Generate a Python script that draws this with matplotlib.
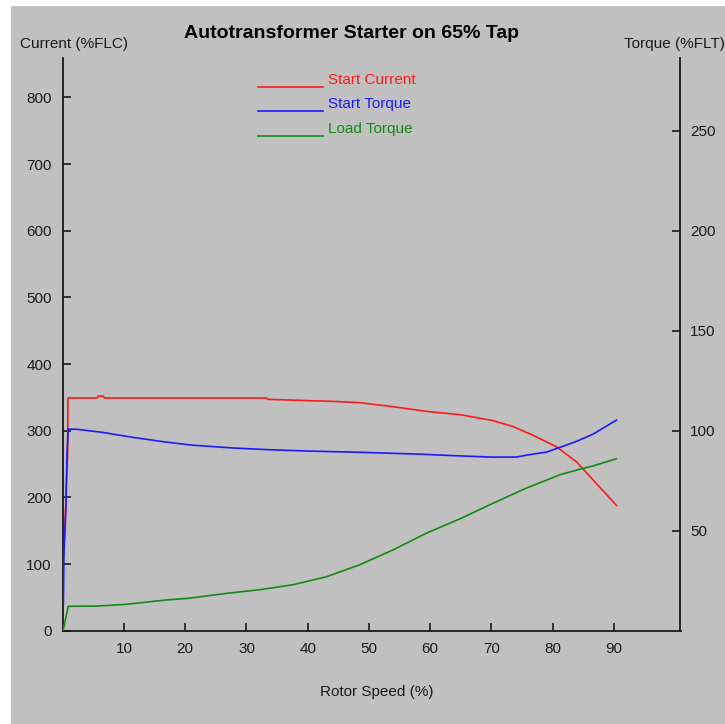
import matplotlib
matplotlib.use("Agg")
import matplotlib.pyplot as plt
from matplotlib.patches import Rectangle
from matplotlib.lines import Line2D

FONT = ["Liberation Sans", "DejaVu Sans"]
plt.rcParams["font.family"] = FONT

# Start current (%FLC) vs rotor speed (%)
speed_current = [0.0, 0.1, 0.2, 0.5, 0.55, 0.8, 0.85, 5.6, 5.8, 6.6, 6.8, 33.3, 33.5,
                 44.0, 48.5, 53.9, 59.4, 64.9, 70.3, 73.6, 76.8, 80.6, 83.9, 86.6, 90.4]
start_current = [40, 110, 128, 190, 215, 265, 349, 349, 352, 352, 349, 349, 347,
                 344, 342, 336, 329, 324, 315, 306, 293, 276, 253, 226, 188]

# Start torque (%FLT) vs rotor speed (%)
speed_start_torque = [0.1, 0.2, 0.5, 0.7, 0.9, 2.3, 6.4, 11.4, 16.4, 21.0, 28.1, 33.7,
                      40.3, 48.5, 58.0, 64.0, 70.0, 74.0, 75.8, 79.0, 81.2, 83.9, 86.6, 90.4]
start_torque = [13, 39, 60, 89, 100.8, 100.7, 99.2, 96.7, 94.5, 92.8, 91.3, 90.5,
                89.8, 89.2, 88.3, 87.5, 86.8, 86.8, 87.8, 89.3, 91.7, 94.7, 98.3, 105.3]

# Load torque (%FLT) vs rotor speed (%)
speed_load_torque = [0.05, 0.9, 5.5, 10.4, 16.7, 20.5, 26.8, 32.2, 37.6, 43.1, 48.5,
                     54.0, 59.4, 64.9, 70.3, 75.7, 78.5, 81.2, 84.5, 86.7, 90.4]
load_torque = [0.0, 12.2, 12.3, 13.2, 15.3, 16.2, 18.7, 20.5, 23.0, 27.0, 33.0,
               40.5, 48.8, 56.0, 63.8, 71.3, 74.7, 78.0, 80.8, 82.5, 86.0]

x_ticks = [10, 20, 30, 40, 50, 60, 70, 80, 90]
current_ticks = [0, 100, 200, 300, 400, 500, 600, 700, 800]
torque_ticks = [50, 100, 150, 200, 250]

RED, BLUE, GREEN = "#ff1a1a", "#1a1aff", "#138a13"
PANEL = "#c0c0c0"
INK = "#1a1a1a"
FS = 11

W, H = 725, 724
fig = plt.figure(figsize=(W / 100, H / 100), dpi=100, facecolor="white")
fig.add_artist(Rectangle((11 / W, 0), 1 - 11 / W, 1 - 6 / H, transform=fig.transFigure,
                         facecolor=PANEL, edgecolor="none", zorder=-10))

left, right = 62.75 / W, 680.5 / W
bottom, top = 1 - 630.7 / H, 1 - 58 / H
ax = fig.add_axes([left, bottom, right - left, top - bottom])
ax.patch.set_alpha(0)
ax2 = ax.twinx()
ax2.patch.set_alpha(0)

ax.plot(speed_current, start_current, color=RED, lw=1.2)
ax2.plot(speed_load_torque, load_torque, color=GREEN, lw=1.2)
ax2.plot(speed_start_torque, start_torque, color=BLUE, lw=1.2)

ax.set_xlim(0, 100.86)
ax.set_ylim(0, 859)
ax2.set_ylim(0, 286.35)

for a in (ax, ax2):
    for s in a.spines.values():
        s.set_color(INK)
        s.set_linewidth(1.3)
    a.spines["top"].set_visible(False)
ax.spines["right"].set_visible(False)
ax2.spines["left"].set_visible(False)
ax2.spines["bottom"].set_visible(False)

ax.set_xticks(x_ticks)
ax.set_yticks(current_ticks)
ax2.set_yticks(torque_ticks)
ax.tick_params(axis="both", direction="in", length=6, width=1.2, color=INK,
               labelsize=FS, labelcolor=INK, pad=8)
ax2.tick_params(axis="y", direction="in", length=6, width=1.2, color=INK,
                labelsize=FS, labelcolor=INK, pad=7)

fig.text(352 / W, 1 - 33 / H, "Autotransformer Starter on 65% Tap", ha="center",
         va="center", fontsize=14, fontweight="bold", color="black")
fig.text(73.5 / W, 1 - 44 / H, "Current (%FLC)", ha="center", va="center",
         fontsize=FS, color=INK)
fig.text(674 / W, 1 - 44 / H, "Torque (%FLT)", ha="center", va="center",
         fontsize=FS, color=INK)
fig.text(377 / W, 1 - 692 / H, "Rotor Speed (%)", ha="center", va="center",
         fontsize=FS, color=INK)

legend_items = [("Start Current", RED, 87, 80), ("Start Torque", BLUE, 111, 104),
                ("Load Torque", GREEN, 136, 129)]
for label, col, ly, ty in legend_items:
    fig.add_artist(Line2D([258 / W, 323 / W], [1 - ly / H, 1 - ly / H],
                          transform=fig.transFigure, color=col, lw=1.2))
    fig.text(328 / W, 1 - ty / H, label, ha="left", va="center", fontsize=FS, color=col)

fig.savefig("out.png", dpi=100, facecolor="white")
